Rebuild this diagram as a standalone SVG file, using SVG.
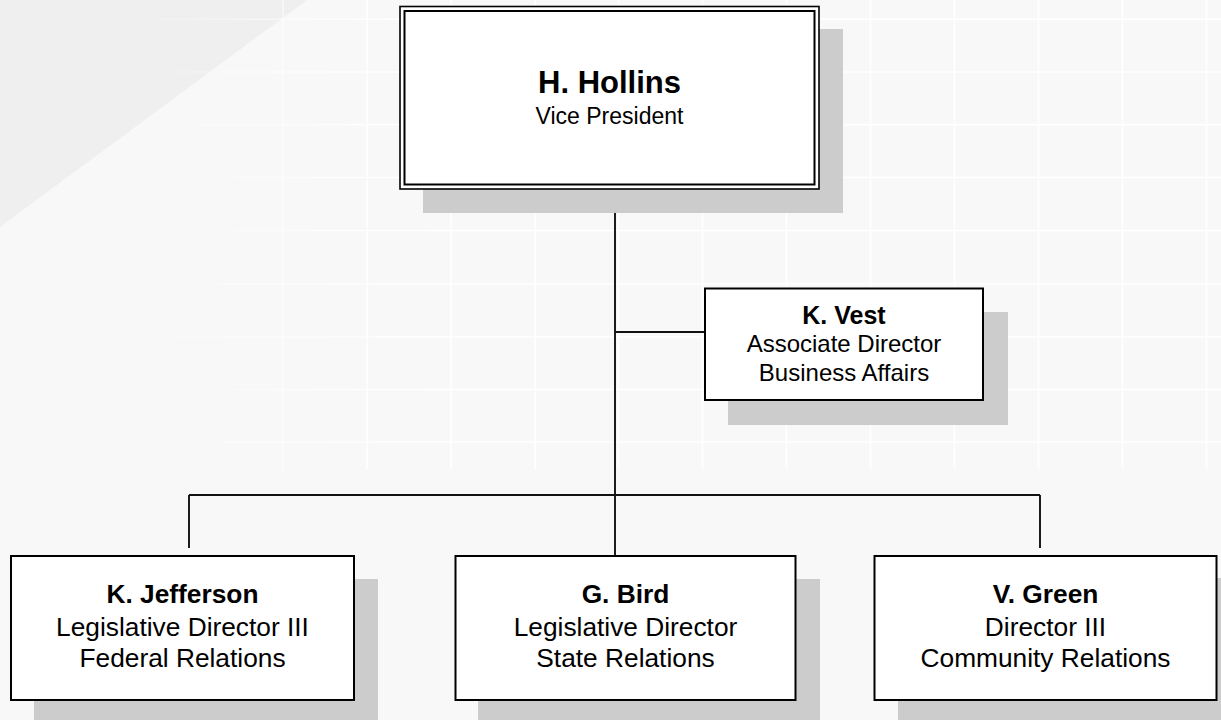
<svg xmlns="http://www.w3.org/2000/svg" width="1221" height="720" viewBox="0 0 1221 720">
<style>
.name{font-family:"Liberation Sans",Arial,sans-serif;font-weight:bold;fill:#000;text-anchor:middle}
.sub{font-family:"Liberation Sans",Arial,sans-serif;fill:#000;text-anchor:middle}
.box{fill:#fff;stroke:#000;stroke-width:2}
.shadow{fill:#cccccc}
.conn{stroke:#111;stroke-width:1.9;fill:none}
.grid line{stroke:#ffffff;stroke-width:1.6}
</style>
<defs>
<linearGradient id="fadeX" x1="0" y1="0" x2="1" y2="0">
<stop offset="0.1" stop-color="#000"/>
<stop offset="0.35" stop-color="#fff"/>
<stop offset="1" stop-color="#fff"/>
</linearGradient>
<mask id="gridMask">
<rect x="0" y="0" width="1221" height="720" fill="url(#fadeX)"/>
</mask>
</defs>
<rect x="0" y="0" width="1221" height="720" fill="#f8f8f8"/>
<polygon points="0,0 307,0 0,227" fill="#efefef"/>
<g class="grid" mask="url(#gridMask)">
<line x1="0" y1="19.3" x2="1221" y2="19.3"/>
<line x1="0" y1="72" x2="1221" y2="72"/>
<line x1="0" y1="124.6" x2="1221" y2="124.6"/>
<line x1="0" y1="177.5" x2="1221" y2="177.5"/>
<line x1="0" y1="230.5" x2="1221" y2="230.5"/>
<line x1="0" y1="284" x2="1221" y2="284"/>
<line x1="0" y1="337" x2="1221" y2="337"/>
<line x1="0" y1="389.5" x2="1221" y2="389.5"/>
<line x1="0" y1="442" x2="1221" y2="442"/>
<line x1="283" y1="0" x2="283" y2="470"/>
<line x1="367" y1="0" x2="367" y2="470"/>
<line x1="451" y1="0" x2="451" y2="470"/>
<line x1="535" y1="0" x2="535" y2="470"/>
<line x1="618.5" y1="0" x2="618.5" y2="470"/>
<line x1="702.5" y1="0" x2="702.5" y2="470"/>
<line x1="786.5" y1="0" x2="786.5" y2="470"/>
<line x1="870.5" y1="0" x2="870.5" y2="470"/>
<line x1="954.5" y1="0" x2="954.5" y2="470"/>
<line x1="1038.5" y1="0" x2="1038.5" y2="470"/>
<line x1="1122.5" y1="0" x2="1122.5" y2="470"/>
<line x1="1206.5" y1="0" x2="1206.5" y2="470"/>
</g>
<g id="connectors">
<line class="conn" x1="615" y1="189" x2="615" y2="556"/>
<line class="conn" x1="615" y1="332" x2="705" y2="332"/>
<line class="conn" x1="189" y1="495" x2="1040" y2="495"/>
<line class="conn" x1="189" y1="495" x2="189" y2="548"/>
<line class="conn" x1="1040" y1="495" x2="1040" y2="548"/>
</g>
<g id="node-hollins">
<rect class="shadow" x="423" y="29" width="420" height="184"/>
<rect x="400" y="6.5" width="419" height="182.5" fill="#fff" stroke="#000" stroke-width="1.6"/>
<rect x="404.5" y="11" width="410" height="173.5" fill="none" stroke="#000" stroke-width="2"/>
<text class="name" x="609.5" y="93" font-size="31">H. Hollins</text>
<text class="sub" x="609.5" y="124" font-size="23">Vice President</text>
</g>
<g id="node-vest">
<rect class="shadow" x="728" y="312" width="280" height="113"/>
<rect class="box" x="705" y="288.5" width="278" height="111.5"/>
<text class="name" x="844" y="324" font-size="25">K. Vest</text>
<text class="sub" x="844" y="352" font-size="24">Associate Director</text>
<text class="sub" x="844" y="381" font-size="24">Business Affairs</text>
</g>
<g id="node-jefferson">
<rect class="shadow" x="34" y="579" width="344" height="145"/>
<rect class="box" x="11" y="556" width="343" height="144"/>
<text class="name" x="182.5" y="603" font-size="26.3">K. Jefferson</text>
<text class="sub" x="182.5" y="636" font-size="26.3">Legislative Director III</text>
<text class="sub" x="182.5" y="667" font-size="26.3">Federal Relations</text>
</g>
<g id="node-bird">
<rect class="shadow" x="478" y="579" width="342" height="145"/>
<rect class="box" x="455.5" y="556" width="340" height="144"/>
<text class="name" x="625.5" y="603" font-size="26.3">G. Bird</text>
<text class="sub" x="625.5" y="636" font-size="26.3">Legislative Director</text>
<text class="sub" x="625.5" y="667" font-size="26.3">State Relations</text>
</g>
<g id="node-green">
<rect class="shadow" x="898" y="578" width="344" height="145"/>
<rect class="box" x="874.5" y="556" width="342" height="144"/>
<text class="name" x="1045.5" y="603" font-size="26.3">V. Green</text>
<text class="sub" x="1045.5" y="636" font-size="26.3">Director III</text>
<text class="sub" x="1045.5" y="667" font-size="26.3">Community Relations</text>
</g>
</svg>
